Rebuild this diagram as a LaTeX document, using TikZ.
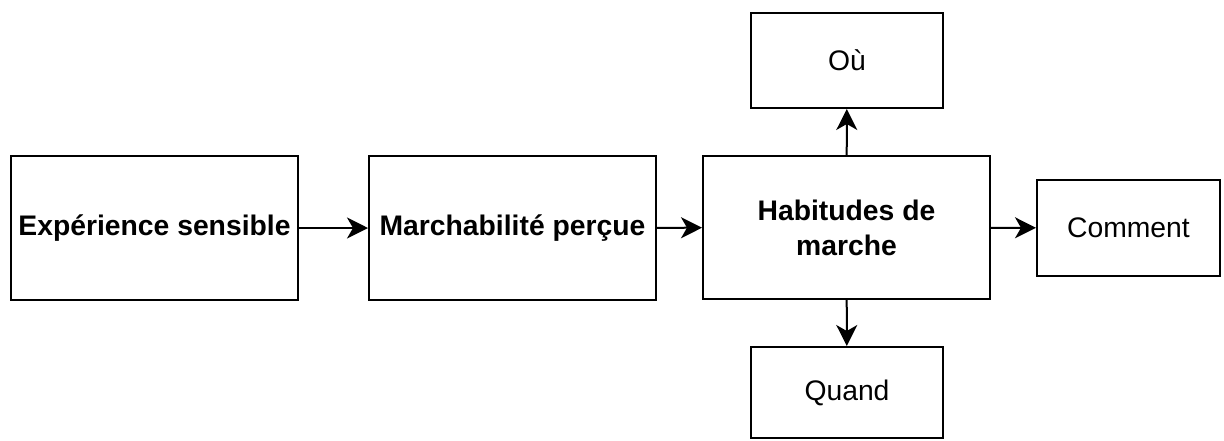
\documentclass[tikz,border=0pt]{standalone}
\usepackage{fontspec}
\setmainfont{Liberation Sans}
\usetikzlibrary{arrows.meta}
\begin{document}
\begin{tikzpicture}[x=1pt,y=-1pt,
  box/.style={draw=black, line width=2pt, inner sep=0pt, align=center,
    font=\fontsize{28.3}{35}\selectfont},
  boldbox/.style={box, font=\fontsize{28.3}{35}\selectfont\bfseries},
  link/.style={line width=2pt, -{Stealth[length=21pt,width=21pt,inset=6pt]}}]
\useasboundingbox (0,0) rectangle (1224,440);
% main chain
\node[boldbox, minimum width=287pt, minimum height=144pt] (exp) at (154.5,228) {Expérience sensible};
\node[boldbox, minimum width=287pt, minimum height=144pt] (mar) at (512.5,228) {Marchabilité perçue};
\node[boldbox, minimum width=287pt, minimum height=143pt] (hab) at (846.5,227.5) {Habitudes de\\marche};
% outcomes
\node[box, minimum width=192pt, minimum height=95pt] (ou) at (847,60.5) {Où};
\node[box, minimum width=192pt, minimum height=91pt] (quand) at (847,392.5) {Quand};
\node[box, minimum width=183pt, minimum height=96pt] (comment) at (1128.5,228) {Comment};
% connectors
\draw[link] (exp) -- (mar);
\draw[link] (mar) -- (hab);
\draw[link] (hab) -- (ou);
\draw[link] (hab) -- (quand);
\draw[link] (hab) -- (comment);
\end{tikzpicture}
\end{document}
